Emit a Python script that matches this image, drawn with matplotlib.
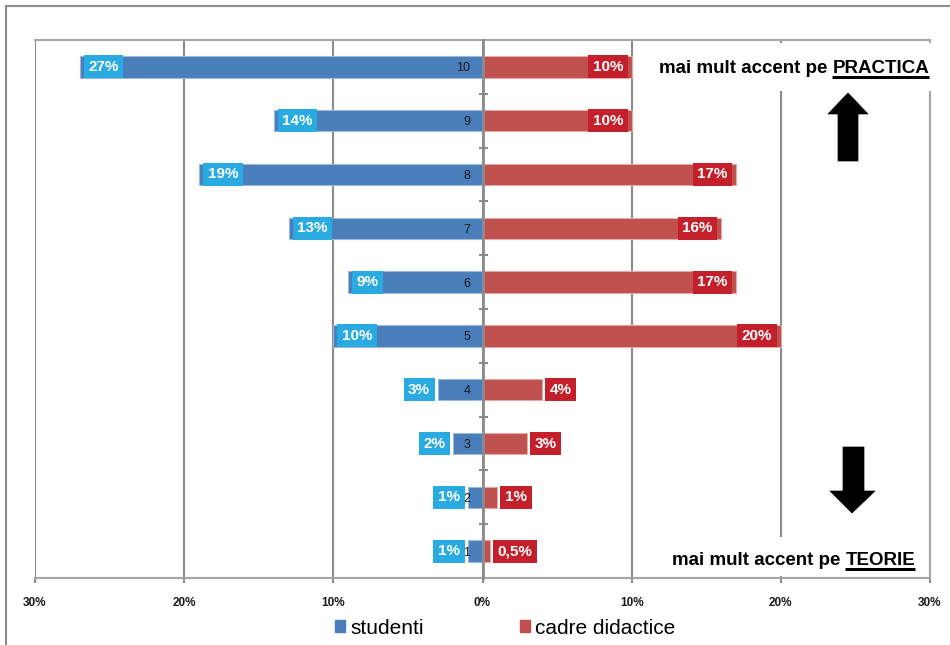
import matplotlib
matplotlib.use("Agg")
import matplotlib.pyplot as plt
from matplotlib.patches import Rectangle, Polygon
from matplotlib.lines import Line2D

# ---- data -------------------------------------------------------------
categories = [1, 2, 3, 4, 5, 6, 7, 8, 9, 10]
studenti = [1, 1, 2, 3, 10, 9, 13, 19, 14, 27]
cadre_didactice = [0.5, 1, 3, 4, 20, 17, 16, 17, 10, 10]
series_names = ["studenti", "cadre didactice"]
x_ticks = [-30, -20, -10, 0, 10, 20, 30]
x_tick_labels = ["30%", "20%", "10%", "0%", "10%", "20%", "30%"]
note_top = ("mai mult accent pe", "PRACTICA")
note_bottom = ("mai mult accent pe", "TEORIE")

plt.rcParams["font.family"] = ["Liberation Sans", "DejaVu Sans"]

W, H = 950, 645
BLUE, BLUE_LBL = "#4A7EBB", "#29ABE2"
RED, RED_LBL = "#C0504D", "#C3202B"
GRID, FRAME = "#8C8C8C", "#A6A6A6"
PT = 72.0 / 100.0  # points per pixel at 100 dpi

fig = plt.figure(figsize=(W / 100, H / 100), dpi=100)
ax = fig.add_axes([35 / W, 67 / H, 895 / W, 538 / H])


def px(x, y):
    """Pixel position (from top-left of the figure) -> axes fraction."""
    return (x - 35) / 895.0, (578 - y) / 538.0


# ---- bars ---------------------------------------------------------------
ax.barh(categories, [-v for v in studenti], height=0.4, color=BLUE,
        edgecolor="#9DB8DB", linewidth=0.8, zorder=3)
ax.barh(categories, cadre_didactice, height=0.4, color=RED,
        edgecolor="#E3A9A7", linewidth=0.8, zorder=3)

ax.set_xlim(-30, 30)
ax.set_ylim(0.5, 10.5)


def fmt(v):
    return ("%g%%" % v).replace(".", ",")


LBL_FS = 11
pad_px = 0.3 * LBL_FS / PT
for cat, v in zip(categories, studenti):
    inside = v >= 5
    off = (4 + pad_px) if inside else -(3 + pad_px)
    ax.annotate(fmt(v), (-v, cat), xytext=(off * PT, 0), textcoords="offset points",
                ha="left" if inside else "right", va="center", color="white",
                fontsize=LBL_FS, fontweight="bold", zorder=6,
                bbox=dict(boxstyle="square,pad=0.3", fc=BLUE_LBL, ec="none"))
for cat, v in zip(categories, cadre_didactice):
    inside = v >= 5
    off = -(4 + pad_px) if inside else (3 + pad_px)
    ax.annotate(fmt(v), (v, cat), xytext=(off * PT, 0), textcoords="offset points",
                ha="right" if inside else "left", va="center", color="white",
                fontsize=LBL_FS, fontweight="bold", zorder=6,
                bbox=dict(boxstyle="square,pad=0.3", fc=RED_LBL, ec="none"))

# ---- axes styling -------------------------------------------------------
ax.set_xticks(x_ticks)
ax.set_xticklabels(x_tick_labels, fontsize=8.5, fontweight="bold", color="#1A1A1A")
ax.tick_params(axis="x", direction="out", length=5 * PT, width=1.5, color=GRID, pad=10)
ax.grid(axis="x", color=GRID, linewidth=1.5, zorder=1)
ax.set_axisbelow(True)

# central vertical axis with category numbers and boundary ticks
ax.spines["left"].set_position(("data", 0))
ax.spines["left"].set_color(GRID)
ax.spines["left"].set_linewidth(2)
ax.spines["left"].set_zorder(4)
ax.set_yticks(categories)
ax.set_yticklabels([str(c) for c in categories], fontsize=9, color="#1A1A1A")
ax.set_yticks([c + 0.5 for c in categories[:-1]], minor=True)
ax.tick_params(axis="y", which="major", length=0, pad=12 * PT)
ax.tick_params(axis="y", which="minor", direction="inout", length=9 * PT, width=1.5, color=GRID)
ax.yaxis.set_zorder(5)

for side in ("top", "right", "bottom"):
    ax.spines[side].set_color(FRAME)
    ax.spines[side].set_linewidth(1.5)

# ---- side notes with arrows --------------------------------------------
for (x0, y0, x1, y1) in [(650, 43, 936, 91), (670, 537, 925, 576)]:
    a0 = px(x0, y1)
    a1 = px(x1, y0)
    ax.add_patch(Rectangle(a0, a1[0] - a0[0], a1[1] - a0[1], transform=ax.transAxes,
                           fc="white", ec="none", clip_on=False, zorder=6))

up_arrow = [(838, 161), (838, 114), (828, 114), (848, 93), (868, 114), (858, 114), (858, 161)]
down_arrow = [(843, 447), (843, 491), (830, 491), (852, 513), (875, 491), (864, 491), (864, 447)]
for shape in (up_arrow, down_arrow):
    ax.add_patch(Polygon([px(x, y) for x, y in shape], closed=True, transform=ax.transAxes,
                         fc="black", ec="black", lw=0.5, clip_on=False, zorder=7))

fig.canvas.draw()
renderer = fig.canvas.get_renderer()
for (lead, key), right_px, base_px, line_px in [(note_top, 929, 73, 77), (note_bottom, 915, 565, 569)]:
    kx, ky = px(right_px, base_px)
    t = ax.text(kx, ky, key, transform=ax.transAxes, ha="right", va="baseline",
                fontsize=13.5, fontweight="bold", color="black", zorder=8)
    bb = t.get_window_extent(renderer).transformed(ax.transAxes.inverted())
    ax.text(bb.x0 - 5 / 895.0, ky, lead, transform=ax.transAxes, ha="right", va="baseline",
            fontsize=13.5, fontweight="bold", color="black", zorder=8)
    ly = px(0, line_px)[1]
    ax.add_line(Line2D([bb.x0, bb.x1], [ly, ly], transform=ax.transAxes, color="black",
                       lw=3 * PT, solid_capstyle="butt", clip_on=False, zorder=8))

# ---- legend -------------------------------------------------------------
handles = [Rectangle((0, 0), 1, 1, color=BLUE), Rectangle((0, 0), 1, 1, color=RED)]
fig.legend(handles, series_names, loc="center", bbox_to_anchor=(505 / W, 1 - 628 / H),
           ncol=2, frameon=False, fontsize=15, handlelength=0.5, handleheight=0.5,
           handletextpad=0.25, columnspacing=4.6, borderaxespad=0, borderpad=0)

# ---- outer frame (top and left edges) ------------------------------------
fig.add_artist(Line2D([6 / W, 1], [1 - 6 / H, 1 - 6 / H], transform=fig.transFigure,
                      color=GRID, lw=1.5))
fig.add_artist(Line2D([6 / W, 6 / W], [0, 1 - 6 / H], transform=fig.transFigure,
                      color=GRID, lw=1.5))

fig.savefig("out.png", dpi=100)
